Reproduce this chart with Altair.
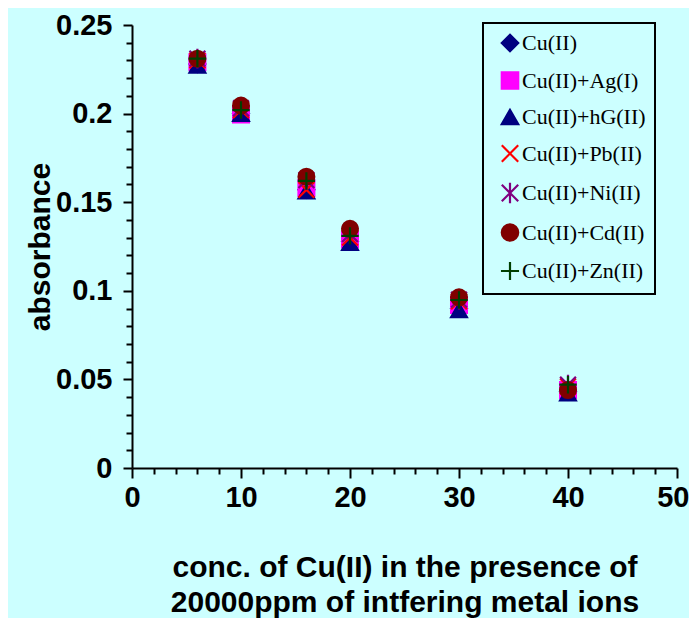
import altair as alt
import pandas as pd

# ---- data ----
conc = [6, 10, 16, 20, 30, 40]
series_names = ["Cu(II)", "Cu(II)+Ag(I)", "Cu(II)+hG(II)", "Cu(II)+Pb(II)",
                "Cu(II)+Ni(II)", "Cu(II)+Cd(II)", "Cu(II)+Zn(II)"]
cu = [0.228, 0.200, 0.157, 0.128, 0.090, 0.043]
cu_ag = [0.229, 0.1995, 0.158, 0.129, 0.092, 0.044]
cu_hg = [0.227, 0.1998, 0.156, 0.127, 0.089, 0.042]
cu_pb = [0.230, 0.202, 0.157, 0.130, 0.094, 0.046]
cu_ni = [0.231, 0.203, 0.1625, 0.132, 0.095, 0.047]
cu_cd = [0.231, 0.2045, 0.1644, 0.135, 0.0963, 0.044]
cu_zn = [0.231, 0.202, 0.162, 0.131, 0.0948, 0.047]
all_series = [cu, cu_ag, cu_hg, cu_pb, cu_ni, cu_cd, cu_zn]

colors = ["#000080", "#FF00FF", "#000080", "#FF0000", "#800080", "#800000", "#003F00"]
shapes = ["diamond", "square", "triangle-up",
          "M-1,-1L1,1M-1,1L1,-1",
          "M-1,-1L1,1M-1,1L1,-1M0,-1.25L0,1.25",
          "circle",
          "M-1.1,0L1.1,0M0,-1.1L0,1.1"]

x_ticks = list(range(0, 51, 2))
y_ticks = [round(i * 0.01, 2) for i in range(0, 26)]
x_title = ["conc. of Cu(II) in the presence of", "20000ppm of intfering metal ions"]
y_title = "absorbance"

rows = []
for name, vals in zip(series_names, all_series):
    for xv, yv in zip(conc, vals):
        rows.append({"series": name, "conc": xv, "abs": yv})
df = pd.DataFrame(rows)

FONT = "Liberation Sans"
W, H = 545, 443

color_scale = alt.Scale(domain=series_names, range=colors)
legend = alt.Legend(title=None, orient="none", legendX=351, legendY=-2,
                    padding=9, rowPadding=11.5, strokeColor="black",
                    fillColor="#CCFFFF", labelFont="Liberation Serif",
                    labelFontSize=22, labelColor="black", labelOffset=1,
                    symbolOffset=7,
                    symbolStrokeWidth=2.2, symbolSize=270, labelLimit=300)

chart = alt.Chart(df).mark_point(filled=True, size=250, strokeWidth=2.2, opacity=1).encode(
    x=alt.X("conc:Q", scale=alt.Scale(domain=[0, 50], nice=False),
            axis=alt.Axis(values=x_ticks, title=x_title,
                          labelExpr="datum.value % 10 === 0 ? datum.label : ''",
                          labelAlign={"condition": {"test": "datum.value === 50", "value": "right"}, "value": "center"},
                          labelOffset={"condition": {"test": "datum.value === 50", "value": 12}, "value": 0},
                          tickSize={"condition": {"test": "datum.value % 10 === 0", "value": 10}, "value": 6},
                          labelPadding=5, titleY=108, titleX=W / 2,
                          titleBaseline="alphabetic", titleLineHeight=35)),
    y=alt.Y("abs:Q", scale=alt.Scale(domain=[0, 0.25], nice=False),
            axis=alt.Axis(values=y_ticks, title=y_title, format=".2~f",
                          labelExpr="round(datum.value*100) % 5 === 0 ? datum.label : ''",
                          tickSize={"condition": {"test": "round(datum.value*100) % 5 === 0", "value": 9}, "value": 6},
                          labelPadding=11, titleX=-92, titleY=H / 2,
                          titleBaseline="middle", titleAngle=-90, titleAlign="center")),
    fill=alt.Fill("series:N", scale=color_scale, sort=series_names, legend=legend),
    stroke=alt.Stroke("series:N", scale=color_scale, sort=series_names, legend=legend),
    shape=alt.Shape("series:N", scale=alt.Scale(domain=series_names, range=shapes),
                    sort=series_names, legend=legend),
    order=alt.Order("idx:Q"),
).transform_calculate(
    idx="indexof(" + str(series_names).replace("'", '"') + ", datum.series)"
).properties(
    width=W, height=H, background="#CCFFFF",
    autosize=alt.AutoSizeParams(type="none"),
    padding={"left": 124, "top": 17, "right": 12, "bottom": 150},
).configure_view(stroke=None, fill="#CCFFFF").configure_axis(
    grid=False, domainColor="black", domainWidth=2, tickColor="black", tickWidth=2,
    labelFont=FONT, labelFontSize=29, labelFontWeight="bold", labelColor="black",
    titleFont=FONT, titleFontSize=30, titleFontWeight="bold", titleColor="black",
    labelOverlap=False, labelFlush=False,
).configure_legend(strokeWidth=2)

chart.save("out.html", embed_options={"renderer": "svg", "actions": False})
